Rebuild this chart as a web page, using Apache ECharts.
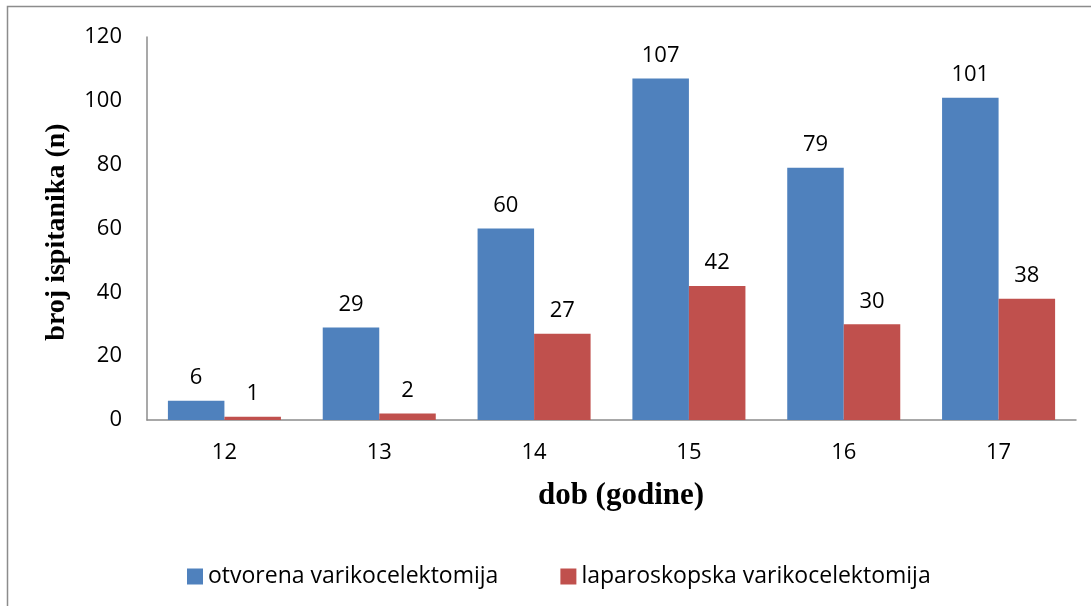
<!DOCTYPE html>
<html>
<head>
<meta charset="utf-8">
<script src="https://cdn.jsdelivr.net/npm/echarts@6/dist/echarts.min.js"></script>
<style>
  html, body { margin: 0; padding: 0; background: #fff; }
  #chart { width: 1091px; height: 606px; }
</style>
</head>
<body>
<div id="chart"></div>
<script>
// podaci
const categories = ['12', '13', '14', '15', '16', '17']
const otvorena = [6, 29, 60, 107, 79, 101]
const laparoskopska = [1, 2, 27, 42, 30, 38]
const yTicks = [0, 20, 40, 60, 80, 100, 120]

const chart = echarts.init(document.getElementById('chart'))

const labelStyle = {
  show: true,
  position: 'top',
  distance: 12,
  fontFamily: 'Open Sans',
  fontSize: 22,
  color: '#000'
}

chart.setOption({
  animation: false,
  graphic: [
    {
      type: 'rect',
      shape: { x: 7.5, y: 6.5, width: 1100, height: 620 },
      style: { fill: 'none', stroke: '#8c8c8c', lineWidth: 1.5 },
      silent: true
    },
    {
      // naslov y osi
      type: 'text',
      rotation: Math.PI / 2,
      x: 57, y: 232,
      style: {
        text: 'broj ispitanika (n)',
        fontFamily: 'Liberation Serif',
        fontWeight: 'bold',
        fontSize: 28,
        fill: '#000',
        align: 'center',
        verticalAlign: 'middle'
      }
    },
    {
      // naslov x osi
      type: 'text',
      x: 621, y: 496,
      style: {
        text: 'dob (godine)',
        fontFamily: 'Liberation Serif',
        fontWeight: 'bold',
        fontSize: 31,
        fill: '#000',
        align: 'center',
        verticalAlign: 'middle'
      }
    }
  ],
  legend: {
    left: 182,
    top: 560,
    itemWidth: 16,
    itemHeight: 16,
    itemGap: 62,
    icon: 'rect',
    textStyle: { fontFamily: 'Open Sans', fontSize: 23, color: '#000' },
    data: ['otvorena varikocelektomija', 'laparoskopska varikocelektomija']
  },
  grid: {
    left: 147,
    right: 15,
    top: 37,
    bottom: 186
  },
  xAxis: {
    type: 'category',
    data: categories,
    axisLine: { lineStyle: { color: '#8c8c8c', width: 1.5 } },
    axisTick: { show: false },
    axisLabel: { fontFamily: 'Open Sans', fontSize: 22, color: '#000', margin: 22 }
  },
  yAxis: {
    type: 'value',
    min: yTicks[0],
    max: yTicks[yTicks.length - 1],
    interval: 20,
    axisLine: { show: true, lineStyle: { color: '#8c8c8c', width: 1.5 } },
    axisTick: { show: false },
    splitLine: { show: false },
    axisLabel: { fontFamily: 'Open Sans', fontSize: 22, color: '#000', margin: 25 }
  },
  series: [
    {
      name: 'otvorena varikocelektomija',
      type: 'bar',
      data: otvorena,
      barGap: '0%',
      barCategoryGap: '27%',
      itemStyle: { color: '#4F81BD' },
      label: labelStyle
    },
    {
      name: 'laparoskopska varikocelektomija',
      type: 'bar',
      data: laparoskopska,
      itemStyle: { color: '#C0504D' },
      label: labelStyle
    }
  ]
})
</script>
</body>
</html>
